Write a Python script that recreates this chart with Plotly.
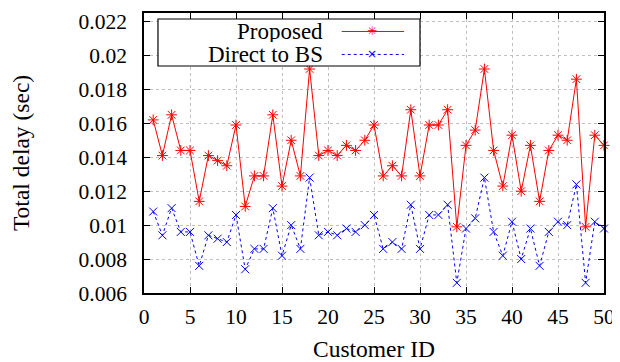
import plotly.graph_objects as go

customer_id = list(range(1, 51))
proposed = [0.0162, 0.0141, 0.0165, 0.0144, 0.0144, 0.0114, 0.0141, 0.0138, 0.0135, 0.0159,
            0.0111, 0.0129, 0.0129, 0.0165, 0.0123, 0.0150, 0.0129, 0.0192, 0.0141, 0.0144,
            0.0141, 0.0147, 0.0144, 0.0150, 0.0159, 0.0129, 0.0135, 0.0129, 0.0168, 0.0129,
            0.0159, 0.0159, 0.0168, 0.0099, 0.0147, 0.0156, 0.0192, 0.0144, 0.0123, 0.0153,
            0.0120, 0.0147, 0.0114, 0.0144, 0.0153, 0.0150, 0.0186, 0.0099, 0.0153, 0.0147]
direct_bs = [0.0108, 0.0094, 0.0110, 0.0096, 0.0096, 0.0076, 0.0094, 0.0092, 0.0090, 0.0106,
             0.0074, 0.0086, 0.0086, 0.0110, 0.0082, 0.0100, 0.0086, 0.0128, 0.0094, 0.0096,
             0.0094, 0.0098, 0.0096, 0.0100, 0.0106, 0.0086, 0.0090, 0.0086, 0.0112, 0.0086,
             0.0106, 0.0106, 0.0112, 0.0066, 0.0098, 0.0104, 0.0128, 0.0096, 0.0082, 0.0102,
             0.0080, 0.0098, 0.0076, 0.0096, 0.0102, 0.0100, 0.0124, 0.0066, 0.0102, 0.0098]
series_names = ["Proposed", "Direct to BS"]

x_ticks = [0, 5, 10, 15, 20, 25, 30, 35, 40, 45, 50]
y_ticks = [0.006, 0.008, 0.010, 0.012, 0.014, 0.016, 0.018, 0.020, 0.022]
y_tick_labels = ["0.006", "0.008", "0.01", "0.012", "0.014", "0.016", "0.018", "0.02", "0.022"]

FONT = "Liberation Serif"
RED = "#ff0000"
BLUE = "#0000ff"

fig = go.Figure()
fig.add_trace(go.Scatter(
    x=customer_id, y=proposed, name=series_names[0], mode="lines+markers", cliponaxis=False,
    line=dict(color=RED, width=1),
    marker=dict(symbol="asterisk-open", size=9, color=RED, line=dict(color=RED, width=1)),
))
fig.add_trace(go.Scatter(
    x=customer_id, y=direct_bs, name=series_names[1], mode="lines+markers", cliponaxis=False,
    line=dict(color=BLUE, width=1, dash="dot"),
    marker=dict(symbol="x-thin-open", size=8, color=BLUE, line=dict(color=BLUE, width=1)),
))

axis_common = dict(
    showline=True, linecolor="black", linewidth=1.5, mirror="allticks",
    ticks="inside", ticklen=6, tickcolor="black", tickwidth=1,
    showgrid=True, gridcolor="#c0c0c0", griddash="dot", gridwidth=1,
    zeroline=False, automargin=False, tickfont=dict(family=FONT, size=21.5, color="black"),
)

fig.update_xaxes(range=[0, 50], tickvals=x_ticks, ticklabelstandoff=3,
                 title=dict(text="Customer ID", font=dict(family=FONT, size=23.5, color="black"), standoff=19),
                 **axis_common)
fig.update_yaxes(range=[0.006, 0.0225], tickvals=y_ticks, ticktext=y_tick_labels, ticklabelstandoff=11,
                 title=dict(text="Total delay (sec)", font=dict(family=FONT, size=23.5, color="black"), standoff=42),
                 **axis_common)

# Legend drawn in gnuplot style: text right-aligned, sample on the right
fig.add_shape(type="rect", xref="paper", yref="paper", x0=0.0304, x1=0.6, y0=0.8107, y1=0.9786,
              line=dict(color="black", width=1.2), fillcolor="white", layer="above")
legend_rows = [(series_names[0], RED, "solid", "✳", 0.934), (series_names[1], BLUE, "dot", "×", 0.852)]
for name, color, dash, glyph, yp in legend_rows:
    fig.add_annotation(text=name, xref="paper", yref="paper", x=0.3935, y=yp, xanchor="right", yanchor="middle",
                       showarrow=False, font=dict(family=FONT, size=23, color="black"), height=22)
    fig.add_shape(type="line", xref="paper", yref="paper", x0=0.4298, x1=0.5652, y0=yp, y1=yp,
                  line=dict(color=color, width=1, dash=dash), layer="above")
    fig.add_annotation(text=glyph, xref="paper", yref="paper", x=0.495, y=yp, xanchor="center", yanchor="middle",
                       showarrow=False, font=dict(family="DejaVu Sans", size=12, color=color))

# the page body adds an 8px offset, so the figure is sized to fit inside the 620x362 window
fig.update_layout(
    width=612, height=354,
    margin=dict(l=136, r=16, t=5, b=69),
    paper_bgcolor="white", plot_bgcolor="white",
    font=dict(family=FONT, color="black"),
    showlegend=False,
)

fig.write_html("out.html")
